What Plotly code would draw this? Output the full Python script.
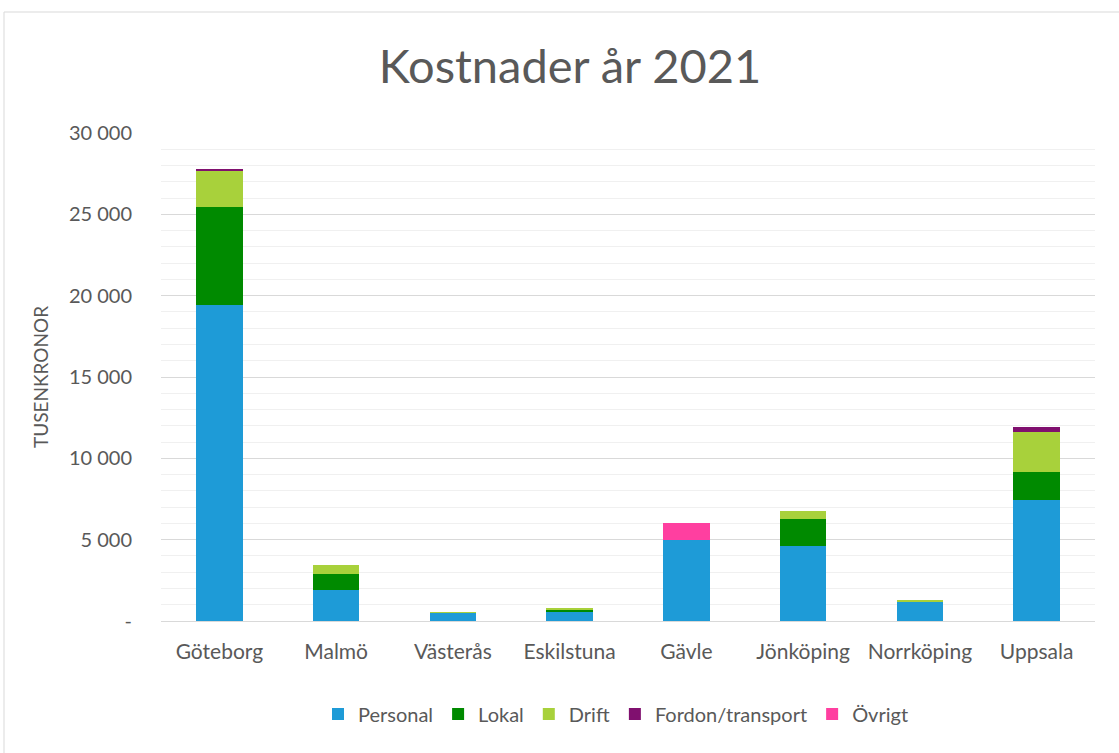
import plotly.graph_objects as go

categories = ["Göteborg", "Malmö", "Västerås", "Eskilstuna", "Gävle", "Jönköping", "Norrköping", "Uppsala"]
personal = [19450, 1920, 530, 530, 4980, 4600, 1200, 7440]
lokal = [6000, 980, 0, 160, 0, 1700, 0, 1740]
drift = [2250, 550, 20, 110, 0, 490, 80, 2430]
fordon = [70, 0, 0, 0, 0, 0, 0, 330]
ovrigt = [0, 0, 0, 0, 1030, 0, 0, 0]

series = [
    ("Personal", personal, "#1e9bd7"),
    ("Lokal", lokal, "#008a00"),
    ("Drift", drift, "#a8d13b"),
    ("Fordon/transport", fordon, "#80106f"),
    ("Övrigt", ovrigt, "#ff3fa0"),
]

ytickvals = [0, 5000, 10000, 15000, 20000, 25000, 30000]
yticktext = ["-", "5 000", "10 000", "15 000", "20 000", "25 000", "30 000"]

FONT = "Lato"
GREY = "#595959"

fig = go.Figure()
for name, vals, col in series:
    fig.add_trace(go.Bar(
        x=categories, y=vals, name=name,
        marker=dict(color=col, line=dict(width=0)),
    ))

W, H = 1119, 753
L, R, T, B = 161, 1095, 133, 621

def px(x):
    return (x - L) / (R - L)

def py(y):
    return (B - y) / (B - T)

fig.update_layout(
    width=W, height=H,
    barmode="stack", bargap=0.6,
    margin=dict(l=L, r=W - R, t=T, b=H - B, autoexpand=False),
    paper_bgcolor="white", plot_bgcolor="white",
    font=dict(family=FONT, color=GREY, size=20),
    title=dict(text="Kostnader år 2021", x=570 / W, xanchor="center",
               y=1 - 67 / H, yanchor="middle", yref="container",
               font=dict(family=FONT, size=47, color=GREY)),
    showlegend=True,
    legend=dict(orientation="h", x=px(616), xanchor="center",
                y=py(714), yanchor="middle", font=dict(size=20, color=GREY),
                traceorder="normal", itemclick=False),
    xaxis=dict(showgrid=False, showline=True, linecolor="#d9d9d9", linewidth=1,
               ticks="", tickfont=dict(size=21, color=GREY), ticklabelstandoff=12,
               fixedrange=True),
    yaxis=dict(range=[0, 30000], tickvals=ytickvals, ticktext=yticktext,
               showgrid=True, gridcolor="#d9d9d9", gridwidth=1,
               minor=dict(dtick=1000, showgrid=True, gridcolor="#f0f0f0", gridwidth=1),
               zeroline=True, zerolinecolor="#d9d9d9", zerolinewidth=1,
               ticks="", ticklabelstandoff=28, tickfont=dict(size=20, color=GREY),
               fixedrange=True),
    shapes=[dict(type="rect", xref="paper", yref="paper",
                 x0=px(4), x1=px(1130), y0=py(765), y1=py(12),
                 line=dict(color="#d9d9d9", width=1), fillcolor="rgba(0,0,0,0)", layer="below")],
    annotations=[dict(text="TUSENKRONOR", xref="paper", yref="paper",
                      x=px(40), y=py(377), xanchor="center", yanchor="middle",
                      textangle=-90, showarrow=False,
                      font=dict(family=FONT, size=19, color=GREY))],
)

fig.write_html("out.html")
